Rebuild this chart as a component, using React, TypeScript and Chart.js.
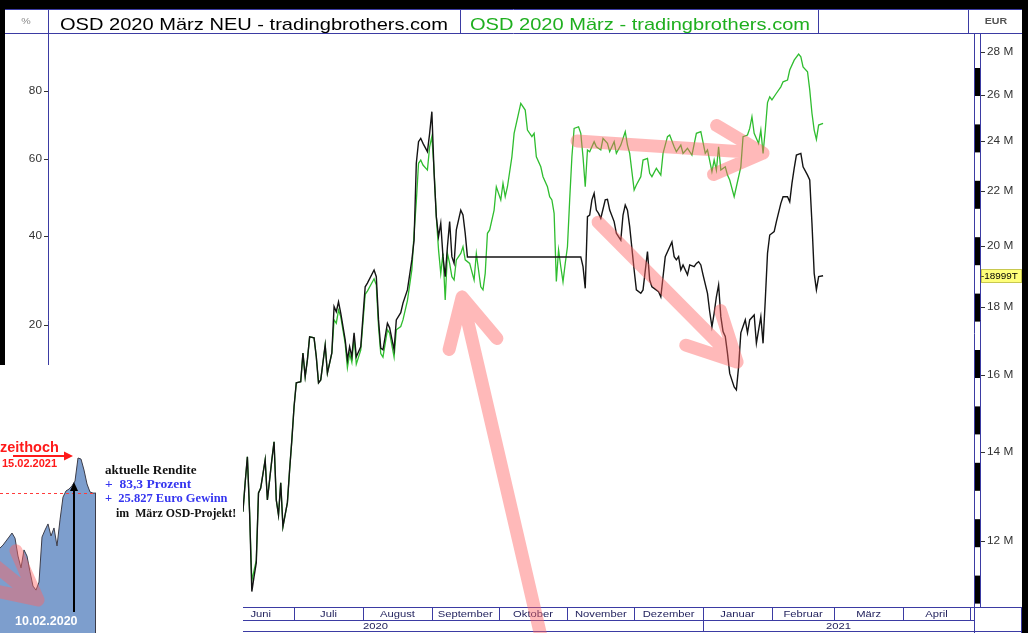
import React, { useEffect, useRef } from 'react';
import { Chart, registerables } from 'chart.js';

Chart.register(...registerables);

// ---------------- data (days since 2020-01-01, values in million EUR) ----------------
const neuDays = [159, 160, 161, 162, 163, 164, 165, 166, 167, 169, 170, 172, 173, 174, 175, 176, 177, 179, 180, 181, 182, 183, 185, 186, 187, 188, 189, 191, 192, 193, 194, 196, 197, 198, 199, 200, 201, 202, 203, 205, 206, 207, 208, 209, 210, 212, 214, 215, 218, 219, 220, 221, 222, 224, 225, 227, 228, 230, 231, 233, 235, 236, 237, 238, 239, 240, 242, 243, 244, 245, 246, 247, 248, 249, 250, 251, 252, 253, 254, 255, 257, 258, 259, 260, 311, 312, 313, 314, 315, 316, 317, 318, 319, 320, 322, 323, 324, 326, 327, 329, 330, 331, 332, 333, 335, 336, 338, 339, 341, 342, 343, 344, 346, 347, 349, 350, 352, 353, 354, 355, 356, 357, 359, 360, 362, 363, 364, 365, 366, 368, 369, 370, 371, 372, 373, 374, 375, 376, 377, 378, 380, 381, 382, 383, 385, 386, 387, 389, 390, 392, 393, 394, 395, 396, 398, 399, 401, 402, 404, 405, 406, 407, 408, 410, 411, 413, 414, 415, 416, 417, 418, 420];
const neuValues = [12.62, 13.27, 13.88, 12.6, 10.99, 11.28, 11.55, 13.04, 13.15, 13.81, 12.88, 13.81, 14.25, 12.88, 12.55, 13.27, 12.3, 12.82, 13.57, 14.29, 15.14, 15.78, 15.81, 16.62, 15.95, 16.42, 17.09, 17.06, 16.51, 15.78, 15.86, 16.85, 16.05, 16.33, 16.62, 18.01, 17.85, 18.16, 17.81, 17.0, 16.42, 16.8, 16.51, 17.21, 16.51, 16.8, 18.64, 18.76, 19.19, 18.97, 17.6, 16.76, 16.71, 17.5, 17.36, 16.71, 17.6, 17.82, 18.12, 18.54, 19.53, 20.21, 23.09, 23.97, 24.11, 23.9, 23.56, 24.32, 25.25, 22.69, 21.05, 20.33, 20.81, 19.64, 18.97, 19.98, 20.87, 19.64, 19.41, 20.57, 21.29, 21.11, 20.45, 19.63, 19.63, 19.3, 18.59, 21.05, 21.11, 21.67, 21.92, 21.29, 21.17, 20.99, 21.67, 21.69, 21.29, 20.87, 20.45, 20.21, 21.11, 21.48, 21.29, 20.69, 19.19, 18.54, 18.43, 18.54, 19.81, 18.86, 18.64, 18.59, 18.48, 18.32, 19.64, 19.81, 20.15, 19.64, 19.53, 19.64, 19.19, 19.36, 19.03, 19.36, 19.3, 19.41, 19.47, 19.36, 19.03, 18.43, 17.85, 17.39, 17.81, 18.32, 18.7, 17.7, 17.25, 17.1, 16.61, 16.04, 15.67, 15.59, 16.23, 17.21, 17.6, 17.21, 17.6, 17.75, 16.9, 17.7, 16.9, 18.22, 19.75, 20.39, 20.51, 20.87, 21.54, 21.79, 21.79, 21.6, 22.3, 22.89, 23.42, 23.49, 22.95, 22.62, 22.43, 20.81, 19.08, 18.54, 18.97, 18.999];

const altDays = [159, 160, 161, 162, 163, 164, 165, 166, 167, 169, 170, 172, 173, 174, 175, 176, 177, 179, 180, 181, 182, 183, 185, 186, 187, 188, 189, 191, 192, 193, 194, 196, 197, 198, 199, 200, 201, 202, 203, 205, 206, 207, 208, 209, 210, 212, 214, 215, 218, 219, 220, 221, 222, 224, 225, 227, 228, 230, 231, 233, 235, 236, 237, 238, 239, 240, 242, 243, 244, 245, 246, 247, 248, 249, 250, 251, 252, 253, 254, 255, 257, 258, 259, 261, 263, 264, 266, 267, 268, 269, 270, 272, 273, 275, 276, 277, 278, 280, 281, 283, 284, 286, 287, 289, 290, 291, 293, 294, 296, 297, 298, 299, 300, 301, 302, 303, 304, 305, 306, 307, 308, 310, 311, 312, 313, 314, 315, 317, 318, 320, 321, 323, 324, 326, 327, 329, 331, 332, 333, 335, 336, 338, 339, 341, 342, 343, 345, 347, 348, 350, 351, 353, 354, 356, 357, 359, 361, 363, 365, 367, 368, 370, 371, 372, 373, 374, 376, 377, 378, 380, 381, 383, 384, 386, 387, 388, 389, 391, 392, 393, 394, 395, 396, 397, 399, 401, 402, 404, 405, 407, 409, 410, 411, 413, 414, 415, 416, 417, 418, 420];
const altValues = [12.62, 13.27, 13.88, 12.6, 11.2, 11.4, 11.6, 13.04, 13.15, 13.81, 12.88, 13.81, 14.25, 12.88, 12.55, 13.27, 12.3, 12.82, 13.57, 14.29, 15.14, 15.78, 15.81, 16.62, 15.95, 16.42, 17.09, 17.06, 16.51, 15.78, 15.86, 16.85, 16.05, 16.33, 16.62, 17.6, 17.5, 17.9, 17.7, 16.9, 16.2, 16.6, 16.35, 17.1, 16.3, 16.7, 18.4, 18.5, 18.9, 18.7, 17.4, 16.6, 16.5, 17.3, 17.2, 16.5, 17.3, 17.4, 17.6, 18.2, 19.2, 20.46, 21.6, 23.09, 23.22, 23.02, 22.82, 23.76, 24.18, 22.82, 21.05, 19.87, 19.08, 19.75, 18.22, 19.75, 19.41, 18.97, 18.86, 19.53, 19.75, 19.98, 19.53, 19.41, 18.86, 19.75, 18.64, 18.54, 19.08, 20.45, 20.57, 21.29, 22.17, 21.67, 22.3, 21.79, 22.17, 23.35, 24.32, 25.18, 25.62, 25.32, 24.46, 24.18, 24.32, 23.35, 22.95, 22.56, 22.17, 21.79, 21.67, 21.17, 18.81, 19.87, 19.3, 18.8, 19.41, 19.98, 21.67, 23.35, 24.53, 24.6, 24.32, 23.35, 22.17, 23.63, 23.56, 23.97, 23.76, 23.63, 24.11, 23.9, 23.56, 23.97, 23.49, 23.83, 24.39, 23.83, 23.49, 22.04, 22.24, 22.56, 23.22, 23.29, 22.69, 22.56, 22.89, 22.62, 23.49, 24.18, 24.25, 23.76, 23.56, 23.83, 23.49, 23.7, 23.42, 24.32, 24.39, 23.49, 23.63, 22.76, 23.22, 22.82, 23.76, 22.82, 22.95, 22.62, 22.43, 21.79, 22.17, 22.95, 24.18, 24.25, 24.53, 25.03, 24.32, 23.9, 24.46, 23.49, 24.46, 25.65, 25.91, 25.77, 26.07, 26.36, 26.59, 26.67, 27.14, 27.61, 27.9, 27.77, 27.29, 27.06, 26.22, 25.18, 24.46, 24.07, 24.67, 24.74];

const seriesNames = ['OSD 2020 März NEU', 'OSD 2020 März'];
const sourceName = 'tradingbrothers.com';

const monthNames = ['März', 'April', 'Mai', 'Juni', 'Juli', 'August', 'September', 'Oktober', 'November', 'Dezember', 'Januar', 'Februar', 'März', 'April', 'Mai'];
const monthStartDays = [60, 91, 121, 152, 182, 213, 244, 274, 305, 335, 366, 397, 425, 456, 486];
const monthEndDay = 517;
const yearNames = ['2020', '2021'];
const yearStartDays = [0, 366];
const yearEndDay = 731;

const eurTicks = [12, 14, 16, 18, 20, 22, 24, 26, 28];
const pctTicks = [20, 40, 60, 80];
const pctBase = 14.54;

const xMin = 71.3;
const xMax = 487.9;
const yMin = 10.7;
const yMax = 28.89;

// highlight arrows (tail -> tip) in data coordinates
const arrowTailDays = [294.5, 309.3, 318.8];
const arrowTailValues = [9.93, 24.0, 20.85];
const arrowTipDays = [257.6, 393.0, 381.3];
const arrowTipValues = [18.31, 23.5, 16.36];

// inset picture: performance area
const insetValues = [31.7, 32.8, 34.3, 35.8, 37.3, 35.4, 28.7, 24.3, 31.0, 28.7, 22.8, 17.5, 16.0, 19.0, 35.8, 38.4, 40.7, 36.2, 39.2, 32.5, 42.2, 50.7, 53.0, 53.7, 54.9, 56.7, 65.3, 64.9, 60.8, 55.6, 52.6, 52.2, 52.2];
const insetPrevHigh = 52.35;
const insetArrowIndex = 24.67;
const insetArrowFrom = 7.8;
const insetArrowTo = 56.3;

// ---------------- helpers ----------------
const NAVY = '#3b3ba3';
const STRETCH = 1.18;
const SANS = '"Liberation Sans", Arial, sans-serif';
const SERIF = '"Liberation Serif", "Times New Roman", serif';

function sText(ctx: CanvasRenderingContext2D, text: string, x: number, y: number, font: string, color: string, align: 'left' | 'right' | 'center' = 'left', baseline: CanvasTextBaseline = 'middle', sx = STRETCH) {
  ctx.save();
  ctx.font = font;
  ctx.fillStyle = color;
  ctx.textBaseline = baseline;
  ctx.textAlign = 'left';
  const w = ctx.measureText(text).width * sx;
  let x0 = x;
  if (align === 'right') x0 = x - w;
  else if (align === 'center') x0 = x - w / 2;
  ctx.translate(x0, y);
  ctx.scale(sx, 1);
  ctx.fillText(text, 0, 0);
  ctx.restore();
  return w;
}

function seg(ctx: CanvasRenderingContext2D, x1: number, y1: number, x2: number, y2: number) {
  ctx.beginPath();
  ctx.moveTo(x1, y1);
  ctx.lineTo(x2, y2);
  ctx.stroke();
}

function strokeArrow(ctx: CanvasRenderingContext2D, tx: number, ty: number, hx: number, hy: number, headLen: number, headAngle: number) {
  const ang = Math.atan2(ty - hy, tx - hx);
  const a1 = ang + headAngle;
  const a2 = ang - headAngle;
  ctx.beginPath();
  ctx.moveTo(tx, ty);
  ctx.lineTo(hx, hy);
  ctx.moveTo(hx + headLen * Math.cos(a1), hy + headLen * Math.sin(a1));
  ctx.lineTo(hx, hy);
  ctx.lineTo(hx + headLen * Math.cos(a2), hy + headLen * Math.sin(a2));
  ctx.stroke();
}

const framePlugin = {
  id: 'osdFrame',
  afterDraw(chart: any) {
    const { ctx, chartArea: ca, scales } = chart;
    const xs = scales.x;
    const ys = scales.y;
    const W = chart.width;
    const H = chart.height;
    ctx.save();

    // outer black border
    ctx.fillStyle = '#000';
    ctx.fillRect(0, 0, W, 9);
    ctx.fillRect(0, 9, 5, H);
    ctx.fillRect(W - 6, 9, 6, H);

    // header row
    ctx.strokeStyle = NAVY;
    ctx.lineWidth = 1;
    seg(ctx, 5, 9.5, W - 6, 9.5);
    seg(ctx, 5, ca.top - 0.5, W - 6, ca.top - 0.5);
    [48.5, 460.5, 818.5, 968.5].forEach((x) => seg(ctx, x, 9, x, ca.top));
    sText(ctx, '%', 26, 22, `9px ${SANS}`, '#8a8a8a', 'center');
    sText(ctx, `${seriesNames[0]} - ${sourceName}`, 60, 29.5, `17px ${SANS}`, '#000', 'left', 'alphabetic');
    sText(ctx, `${seriesNames[1]} - ${sourceName}`, 470, 29.5, `17px ${SANS}`, '#1faf1f', 'left', 'alphabetic');
    sText(ctx, 'EUR', 996, 22, `bold 9px ${SANS}`, '#555', 'center');

    // left percentage axis
    ctx.strokeStyle = NAVY;
    seg(ctx, ca.left + 0.5, ca.top, ca.left + 0.5, ca.bottom);
    ctx.strokeStyle = '#333';
    pctTicks.forEach((p) => {
      const y = Math.round(ys.getPixelForValue(pctBase * (1 + p / 100))) + 0.5;
      seg(ctx, ca.left - 4, y, ca.left, y);
      sText(ctx, String(p), ca.left - 6, y, `10px ${SANS}`, '#333', 'right');
    });

    // right EUR axis with scale bar
    const bx = ca.right;
    ctx.fillStyle = '#fff';
    ctx.fillRect(bx, ca.top, 7, ca.bottom - ca.top);
    ctx.fillStyle = '#000';
    for (let k = 0; k < 10; k++) {
      const y0 = 68 + 56.4 * k;
      ctx.fillRect(bx + 1, y0, 6, 28);
    }
    ctx.strokeStyle = NAVY;
    seg(ctx, bx + 0.5, ca.top, bx + 0.5, H);
    seg(ctx, bx + 6.5, ca.top, bx + 6.5, ca.bottom);
    ctx.strokeStyle = '#333';
    eurTicks.forEach((v) => {
      const y = Math.round(ys.getPixelForValue(v)) + 0.5;
      seg(ctx, bx + 7, y, bx + 11, y);
      sText(ctx, `${v} M`, bx + 13, y, `10px ${SANS}`, '#333', 'left');
    });

    // bottom time axis
    const b0 = ca.bottom;
    ctx.strokeStyle = NAVY;
    seg(ctx, ca.left, b0 + 0.5, W - 6, b0 + 0.5);
    seg(ctx, ca.left, b0 + 13.5, ca.right, b0 + 13.5);
    seg(ctx, ca.left, H - 1.5, W - 6, H - 1.5);
    for (let i = 0; i < monthNames.length; i++) {
      const s = xs.getPixelForValue(monthStartDays[i]);
      const e = xs.getPixelForValue(i + 1 < monthStartDays.length ? monthStartDays[i + 1] : monthEndDay);
      if (e < ca.left || s > ca.right) continue;
      if (s >= ca.left && s <= ca.right) {
        ctx.strokeStyle = NAVY;
        const xx = Math.round(s) + 0.5;
        seg(ctx, xx, b0, xx, b0 + 13);
      }
      const vs = Math.max(s, ca.left);
      const ve = Math.min(e, ca.right);
      ctx.font = `9.5px ${SANS}`;
      const tw = ctx.measureText(monthNames[i]).width * STRETCH;
      if (ve - vs > tw + 4) sText(ctx, monthNames[i], (vs + ve) / 2, b0 + 7, `9.5px ${SANS}`, '#23235e', 'center');
    }
    for (let i = 0; i < yearNames.length; i++) {
      const s = xs.getPixelForValue(yearStartDays[i]);
      const e = xs.getPixelForValue(i + 1 < yearStartDays.length ? yearStartDays[i + 1] : yearEndDay);
      if (s >= ca.left && s <= ca.right) {
        ctx.strokeStyle = NAVY;
        const xx = Math.round(s) + 0.5;
        seg(ctx, xx, b0, xx, H - 1);
      }
      const vs = Math.max(s, ca.left);
      const ve = Math.min(e, ca.right);
      if (ve - vs > 30) sText(ctx, yearNames[i], (vs + ve) / 2, b0 + 19.5, `9.5px ${SANS}`, '#23235e', 'center');
    }
    ctx.strokeStyle = NAVY;
    seg(ctx, W - 6.5, b0, W - 6.5, H);

    // last value tag
    const last = neuValues[neuValues.length - 1];
    const ly = Math.round(ys.getPixelForValue(last));
    ctx.fillStyle = '#ffff7a';
    ctx.fillRect(bx + 7, ly - 7, W - 6 - bx - 7, 14);
    ctx.strokeStyle = '#c8c850';
    ctx.strokeRect(bx + 7.5, ly - 6.5, W - 6 - bx - 8, 13);
    sText(ctx, `-${Math.round(last * 1000)}T`, bx + 7, ly + 0.5, `9px ${SANS}`, '#000', 'left', 'middle', 1.1);

    // highlight arrows
    ctx.strokeStyle = 'rgba(255, 100, 100, 0.45)';
    ctx.lineWidth = 13;
    ctx.lineCap = 'round';
    ctx.lineJoin = 'round';
    for (let i = 0; i < arrowTailDays.length; i++) {
      strokeArrow(
        ctx,
        xs.getPixelForValue(arrowTailDays[i]),
        ys.getPixelForValue(arrowTailValues[i]),
        xs.getPixelForValue(arrowTipDays[i]),
        ys.getPixelForValue(arrowTipValues[i]),
        54,
        (27 * Math.PI) / 180,
      );
    }
    ctx.restore();
  },
};

const insetPlugin = {
  id: 'insetDecor',
  afterDraw(chart: any) {
    const { ctx, chartArea: ca, scales } = chart;
    const xs = scales.x;
    const ys = scales.y;
    ctx.save();
    const lastX = xs.getPixelForValue(insetValues.length - 1);
    // right edge of area
    ctx.strokeStyle = '#3c3c48';
    ctx.lineWidth = 1;
    seg(ctx, lastX - 0.5, ys.getPixelForValue(insetValues[insetValues.length - 1]), lastX - 0.5, ca.bottom);

    // previous high (dashed)
    const hy = Math.round(ys.getPixelForValue(insetPrevHigh)) + 0.5;
    ctx.strokeStyle = '#ff3b3b';
    ctx.setLineDash([3, 3]);
    seg(ctx, 0, hy, lastX, hy);
    ctx.setLineDash([]);

    // translucent arrow remnant
    ctx.strokeStyle = 'rgba(255, 100, 100, 0.45)';
    ctx.lineWidth = 13;
    ctx.lineCap = 'round';
    ctx.lineJoin = 'round';
    strokeArrow(ctx, -40, 172, 38, 235, 54, (27 * Math.PI) / 180);

    // black arrow
    const ax = Math.round(xs.getPixelForValue(insetArrowIndex));
    const ay0 = ys.getPixelForValue(insetArrowFrom);
    const ay1 = ys.getPixelForValue(insetArrowTo);
    ctx.strokeStyle = '#000';
    ctx.lineWidth = 2;
    ctx.lineCap = 'butt';
    seg(ctx, ax, ay0, ax, ay1 + 6);
    ctx.fillStyle = '#000';
    ctx.beginPath();
    ctx.moveTo(ax, ay1);
    ctx.lineTo(ax - 4, ay1 + 9);
    ctx.lineTo(ax + 4, ay1 + 9);
    ctx.closePath();
    ctx.fill();

    // red arrow
    ctx.strokeStyle = '#ff1a1a';
    ctx.fillStyle = '#ff1a1a';
    ctx.lineWidth = 2;
    seg(ctx, 13, 91, 65, 91);
    ctx.beginPath();
    ctx.moveTo(73, 91);
    ctx.lineTo(64, 86.5);
    ctx.lineTo(64, 95.5);
    ctx.closePath();
    ctx.fill();

    sText(ctx, 'zeithoch', 0, 86.5, `bold 14.5px ${SANS}`, '#ff1a1a', 'left', 'alphabetic', 1);
    sText(ctx, '15.02.2021', 2, 102, `bold 11px ${SANS}`, '#ff1a1a', 'left', 'alphabetic', 1);
    sText(ctx, '10.02.2020', 15, 260, `bold 12.5px ${SANS}`, '#ffffff', 'left', 'alphabetic', 1);

    sText(ctx, 'aktuelle Rendite', 105, 109, `bold 12.5px ${SERIF}`, '#111', 'left', 'alphabetic', 1.05);
    sText(ctx, '+  83,3 Prozent', 105, 123, `bold 12.5px ${SERIF}`, '#3535f0', 'left', 'alphabetic', 1.08);
    sText(ctx, '+  25.827 Euro Gewinn', 105, 137, `bold 12.5px ${SERIF}`, '#3535f0', 'left', 'alphabetic', 1);
    sText(ctx, 'im  März OSD-Projekt!', 116, 151.5, `bold 12.5px ${SERIF}`, '#111', 'left', 'alphabetic', 0.95);
    ctx.restore();
  },
};

function MainChart() {
  const ref = useRef<HTMLCanvasElement>(null);
  useEffect(() => {
    const canvas = ref.current;
    if (!canvas) return;
    const chart = new Chart(canvas, {
      type: 'line',
      data: {
        datasets: [
          {
            label: seriesNames[0],
            data: neuDays.map((d, i) => ({ x: d, y: neuValues[i] })),
            borderColor: '#141414',
            borderWidth: 1.4,
            pointRadius: 0,
            tension: 0,
            fill: false,
          },
          {
            label: seriesNames[1],
            data: altDays.map((d, i) => ({ x: d, y: altValues[i] })),
            borderColor: '#2fbd2f',
            borderWidth: 1.3,
            pointRadius: 0,
            tension: 0,
            fill: false,
          },
        ],
      },
      options: {
        animation: false,
        responsive: false,
        maintainAspectRatio: false,
        events: [],
        layout: { padding: { left: 48, right: 54, top: 34, bottom: 26 } },
        plugins: { legend: { display: false }, tooltip: { enabled: false } },
        scales: {
          x: { type: 'linear', min: xMin, max: xMax, display: false },
          y: { type: 'logarithmic', min: yMin, max: yMax, display: false },
        },
      },
      plugins: [framePlugin],
    } as any);
    return () => chart.destroy();
  }, []);
  return <canvas ref={ref} width={1028} height={633} style={{ position: 'absolute', left: 0, top: 0, width: 1028, height: 633 }} />;
}

function Inset() {
  const ref = useRef<HTMLCanvasElement>(null);
  useEffect(() => {
    const canvas = ref.current;
    if (!canvas) return;
    const chart = new Chart(canvas, {
      type: 'line',
      data: {
        datasets: [
          {
            data: insetValues.map((v, i) => ({ x: i, y: v })),
            fill: 'origin',
            backgroundColor: '#7d9ecd',
            borderColor: '#3c3c48',
            borderWidth: 1,
            pointRadius: 0,
            tension: 0,
          },
        ],
      },
      options: {
        animation: false,
        responsive: false,
        maintainAspectRatio: false,
        events: [],
        layout: { padding: { left: 0, right: 147, top: 0, bottom: 0 } },
        plugins: { legend: { display: false }, tooltip: { enabled: false } },
        scales: {
          x: { type: 'linear', min: 0, max: insetValues.length - 1, display: false },
          y: { type: 'linear', min: 0, max: 100, display: false },
        },
      },
      plugins: [insetPlugin],
    } as any);
    return () => chart.destroy();
  }, []);
  return (
    <div style={{ position: 'absolute', left: 0, top: 365, width: 243, height: 268, background: '#fff', overflow: 'hidden' }}>
      <canvas ref={ref} width={243} height={268} style={{ display: 'block', width: 243, height: 268 }} />
    </div>
  );
}

export default function App() {
  return (
    <div style={{ position: 'absolute', left: 0, top: 0, width: 1028, height: 633, background: '#fff', overflow: 'hidden' }}>
      <MainChart />
      <Inset />
    </div>
  );
}
